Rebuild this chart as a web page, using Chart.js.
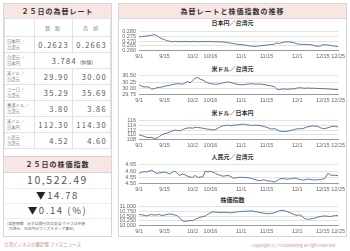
<!DOCTYPE html>
<html>
<head>
<meta charset="utf-8">
<script src="https://cdn.jsdelivr.net/npm/chart.js@4"></script>
<style>
  body { margin: 0; width: 350px; height: 251px; background: #fff; overflow: hidden;
         font-family: "Noto Sans CJK JP", "Noto Sans", sans-serif; color: #555; position: relative; }
  .panel { position: absolute; border: 1px solid #d6d6d6; box-sizing: border-box; }
  .band { position: absolute; left: 0; right: 0; background: #f7e6e2; border-bottom: 1px solid #e2d2cf;
          text-align: center; font-weight: bold; color: #333; font-size: 7px; letter-spacing: 1px; }
  table { position: absolute; left: 0; top: 14px; width: 100%; border-collapse: collapse; }
  td { border: 1px solid #e2e2e2; padding: 0 3px; height: 16px; box-sizing: border-box; }
  td.lab { font-size: 4.3px; line-height: 5.5px; color: #777; width: 30px; padding: 0 2px; }
  td.v { text-align: right; font-size: 7.5px; letter-spacing: 1.3px; color: #555; }
  tr.hd td { height: 18px; text-align: center; font-size: 5px; color: #777; letter-spacing: 2px; }
  .big { position: absolute; left: 0; right: 0; text-align: center; color: #555; letter-spacing: 1.6px; }
  .sub { position: absolute; left: 0; right: 0; text-align: center; font-size: 6px; font-weight: bold; color: #333; }
  canvas { position: absolute; }
  .foot { position: absolute; font-size: 4.5px; color: #d28a8a; }
</style>
</head>
<body>
<div class="panel" style="left:3px;top:3px;width:109px;height:234px;">
  <div class="band" style="top:0;height:14px;line-height:14px;">２５日の為替レート</div>
  <table>
    <tr class="hd"><td class="lab"></td><td>買 取</td><td>売 却</td></tr>
    <tr><td class="lab">日本円／<br>台湾元</td><td class="v">0.2623</td><td class="v">0.2663</td></tr>
    <tr><td class="lab">台湾元／<br>日本円</td><td class="v" colspan="2" style="text-align:center;">3.784 <span style="font-size:5px;letter-spacing:0">(仲値)</span></td></tr>
    <tr><td class="lab">米ドル／<br>台湾元</td><td class="v">29.90</td><td class="v">30.00</td></tr>
    <tr><td class="lab">ユーロ／<br>台湾元</td><td class="v">35.29</td><td class="v">35.69</td></tr>
    <tr><td class="lab">香港ドル／<br>台湾元</td><td class="v">3.80</td><td class="v">3.86</td></tr>
    <tr><td class="lab">米ドル／<br>日本円</td><td class="v">112.30</td><td class="v">114.30</td></tr>
    <tr><td class="lab">人民元／<br>台湾元</td><td class="v">4.52</td><td class="v">4.60</td></tr>
  </table>
  <div class="band" style="top:152px;height:15px;line-height:15px;border-top:1px solid #e2d2cf;">２５日の株価指数</div>
  <div class="big" style="top:168px;font-size:10.5px;line-height:16px;border-bottom:1px solid #eee;">10,522.49</div>
  <div class="big" style="top:184px;font-size:9.5px;line-height:15px;border-bottom:1px solid #eee;"><span style="color:#222">▼</span>14.78</div>
  <div class="big" style="top:199px;font-size:9.5px;line-height:15px;border-bottom:1px solid #eee;"><span style="color:#222">▼</span>0.14 (%)</div>
  <div style="position:absolute;left:3px;top:217px;font-size:3.8px;line-height:5px;color:#666;">(為替情報／みずほ銀行台北支店 グラフは仲値<br>&nbsp;&nbsp;台湾元／日本円はワイズメディア算定)</div>
</div>
<div class="foot" style="left:4px;top:241px;">台湾ビジネスの羅針盤 ワイズニュース</div>

<div class="panel" style="left:118px;top:3px;width:229px;height:234px;">
  <div class="band" style="top:0;height:14px;line-height:14px;">為替レートと株価指数の推移</div>
  <div class="sub" style="top:15px;line-height:8px;">日本円／台湾元</div>
  <div class="sub" style="top:61px;line-height:8px;">米ドル／台湾元</div>
  <div class="sub" style="top:105px;line-height:8px;">米ドル／日本円</div>
  <div class="sub" style="top:149px;line-height:8px;">人民元／台湾元</div>
  <div class="sub" style="top:192px;line-height:8px;">株価指数</div>
</div>
<div class="foot" style="left:252px;top:242px;font-size:4px;">Copyright (C) Y's consulting all right reserved</div>

<canvas id="c1" width="228" height="36" style="left:120px;top:26px;"></canvas>
<canvas id="c2" width="228" height="36" style="left:120px;top:70px;"></canvas>
<canvas id="c3" width="228" height="36" style="left:120px;top:115px;"></canvas>
<canvas id="c4" width="228" height="36" style="left:120px;top:159px;"></canvas>
<canvas id="c5" width="228" height="36" style="left:120px;top:201px;"></canvas>

<script>
// 営業日 (9/1 - 12/25)
const dates = [
  "9/1", "9/4", "9/5", "9/6", "9/7", "9/8", "9/11", "9/12", "9/13", "9/14", "9/15",
  "9/18", "9/19", "9/20", "9/21", "9/22", "9/25", "9/26", "9/27", "9/28", "9/29",
  "10/2", "10/3", "10/5", "10/6", "10/11", "10/12", "10/13",
  "10/16", "10/17", "10/18", "10/19", "10/20", "10/23", "10/24", "10/25", "10/26", "10/27", "10/30", "10/31",
  "11/1", "11/2", "11/3", "11/6", "11/7", "11/8", "11/9", "11/10", "11/13", "11/14", "11/15",
  "11/16", "11/17", "11/20", "11/21", "11/22", "11/23", "11/24", "11/27", "11/28", "11/29", "11/30",
  "12/1", "12/4", "12/5", "12/6", "12/7", "12/8", "12/11", "12/12", "12/13", "12/14", "12/15",
  "12/18", "12/19", "12/20", "12/21", "12/22", "12/25"
];
const xTickLabels = ["9/1", "9/15", "10/2", "10/16", "11/1", "11/15", "12/1", "12/15", "12/25"];

// y軸目盛
const yTicksJpy = [0.260, 0.265, 0.270, 0.275, 0.280];
const yTicksUsdTwd = [29.75, 30.00, 30.25, 30.50];
const yTicksUsdJpy = [108, 110, 112, 114, 116];
const yTicksCny = [4.50, 4.55, 4.60, 4.65];
const yTicksTaiex = [10000, 10250, 10500, 10750, 11000];

const jpyTwd = [
  .2746, .2748, .2752, .2755, .2760, .2764, .2770, .2758, .2740, .2725, .2716,
  .2703, .2700, .2692, .2698, .2694, .2696, .2693, .2697, .2695, .2694,
  .2696, .2695, .2693, .2695, .2696, .2694, .2696,
  .2695, .2693, .2694, .2692, .2693, .2690, .2688, .2682, .2678, .2673, .2670, .2664,
  .2663, .2660, .2656, .2650, .2648, .2643, .2645, .2649, .2652, .2655, .2658,
  .2662, .2665, .2668, .2682, .2674, .2684, .2690, .2692, .2691, .2688, .2680,
  .2670, .2667, .2666, .2665, .2665, .2662, .2658, .2648, .2646, .2648, .2662,
  .2661, .2660, .2653, .2649, .2645, .2643
];
const usdTwd = [
  30.14, 30.08, 30.05, 30.06, 30.04, 29.96, 29.99, 30.02, 30.04, 30.05, 30.08,
  30.10, 30.12, 30.14, 30.17, 30.18, 30.18, 30.16, 30.21, 30.27, 30.22,
  30.30, 30.40, 30.43, 30.36, 30.33, 30.26, 30.22,
  30.19, 30.17, 30.16, 30.17, 30.19, 30.22, 30.24, 30.25, 30.23, 30.20, 30.17, 30.15,
  30.14, 30.14, 30.16, 30.17, 30.18, 30.17, 30.16, 30.17, 30.16, 30.15, 30.13,
  30.11, 30.09, 30.07, 29.96, 29.94, 29.97, 29.97, 29.96, 29.97, 29.97, 29.98,
  30.01, 30.02, 30.01, 30.00, 30.01, 30.00, 30.00, 30.00, 29.99, 29.99, 29.99,
  29.98, 29.97, 29.97, 29.96, 29.95, 29.95
];
const usdJpy = [
  110.0, 109.7, 109.4, 108.9, 108.8, 108.9, 108.4, 108.6, 109.3, 110.1, 110.5,
  110.8, 111.2, 111.6, 112.0, 111.9, 111.7, 112.2, 112.6, 112.9, 113.0,
  112.8, 113.2, 113.1, 113.0, 112.8, 112.6, 112.4,
  112.3, 112.0, 112.3, 112.9, 113.5, 113.9, 114.0, 114.1, 113.8, 114.2, 114.1, 114.3,
  114.5, 114.6, 114.3, 114.2, 114.0, 114.1, 114.1, 114.0, 113.8, 113.5, 113.2,
  112.8, 112.4, 112.7, 112.2, 111.6, 111.5, 111.4, 111.5, 111.7, 112.0, 112.3,
  112.6, 112.6, 112.6, 113.0, 113.4, 113.6, 113.8, 113.7, 113.6, 113.1, 112.6,
  112.7, 113.0, 113.4, 113.7, 113.6, 113.3
];
const cnyTwd = [
  4.581, 4.590, 4.595, 4.592, 4.599, 4.606, 4.592, 4.581, 4.585, 4.588, 4.592,
  4.585, 4.576, 4.590, 4.599, 4.581, 4.565, 4.576, 4.570, 4.558, 4.552,
  4.549, 4.565, 4.549, 4.552, 4.553, 4.599, 4.592,
  4.599, 4.590, 4.581, 4.570, 4.565, 4.558, 4.562, 4.565, 4.555, 4.542, 4.545, 4.549,
  4.550, 4.548, 4.549, 4.545, 4.540, 4.535, 4.528, 4.522, 4.525, 4.530, 4.522,
  4.520, 4.518, 4.512, 4.522, 4.535, 4.540, 4.538, 4.535, 4.537, 4.540, 4.542,
  4.538, 4.532, 4.528, 4.530, 4.535, 4.533, 4.530, 4.528, 4.530, 4.532, 4.535,
  4.545, 4.582, 4.568, 4.565, 4.566, 4.562
];
const taiex = [
  10585, 10580, 10540, 10510, 10560, 10585, 10555, 10570, 10585, 10530, 10560,
  10585, 10620, 10590, 10560, 10525, 10380, 10260, 10215, 10250, 10260,
  10255, 10330, 10380, 10440, 10470, 10510, 10600,
  10680, 10730, 10715, 10700, 10690, 10700, 10705, 10690, 10675, 10700, 10720, 10735,
  10750, 10755, 10765, 10770, 10780, 10760, 10735, 10700, 10675, 10655, 10640,
  10630, 10650, 10675, 10730, 10790, 10810, 10790, 10745, 10690, 10630, 10570,
  10540, 10570, 10480, 10360, 10330, 10350, 10360, 10400, 10450, 10480, 10500,
  10510, 10490, 10480, 10510, 10530, 10522.49
];

const lineColor = '#55779f';
const tickFont = { size: 5.5, family: 'Liberation Sans, Arial, sans-serif', lineHeight: 1 };

function makeChart(id, values, yTicks, fmt) {
  const ctx = document.getElementById(id).getContext('2d');
  return new Chart(ctx, {
    type: 'line',
    data: {
      labels: dates,
      datasets: [{
        data: values,
        borderColor: lineColor,
        borderWidth: 1,
        pointRadius: 0,
        tension: 0,
        fill: false
      }]
    },
    options: {
      responsive: false,
      animation: false,
      layout: { padding: { left: 0, right: 6, top: 0, bottom: 0 } },
      plugins: { legend: { display: false }, tooltip: { enabled: false } },
      scales: {
        x: {
          grid: { display: false, drawTicks: false },
          border: { display: true, color: '#9a9a9a' },
          ticks: {
            autoSkip: false, maxRotation: 0, padding: 3,
            font: tickFont, color: '#666',
            callback: function(v, i) {
              const l = dates[i];
              return xTickLabels.includes(l) ? l : '';
            }
          }
        },
        y: {
          min: yTicks[0], max: yTicks[yTicks.length - 1],
          afterBuildTicks: s => { s.ticks = yTicks.map(v => ({ value: v })); },
          afterFit: s => { s.width = 19; },
          grid: { color: '#e3e3e3', drawTicks: false },
          border: { display: false },
          ticks: { autoSkip: false, padding: 3, font: tickFont, color: '#666', callback: fmt }
        }
      }
    }
  });
}

makeChart('c1', jpyTwd, yTicksJpy, v => v.toFixed(3));
makeChart('c2', usdTwd, yTicksUsdTwd, v => v.toFixed(2));
makeChart('c3', usdJpy, yTicksUsdJpy, v => v.toFixed(0));
makeChart('c4', cnyTwd, yTicksCny, v => v.toFixed(2));
makeChart('c5', taiex, yTicksTaiex, v => v.toLocaleString('en-US'));
</script>
</body>
</html>
